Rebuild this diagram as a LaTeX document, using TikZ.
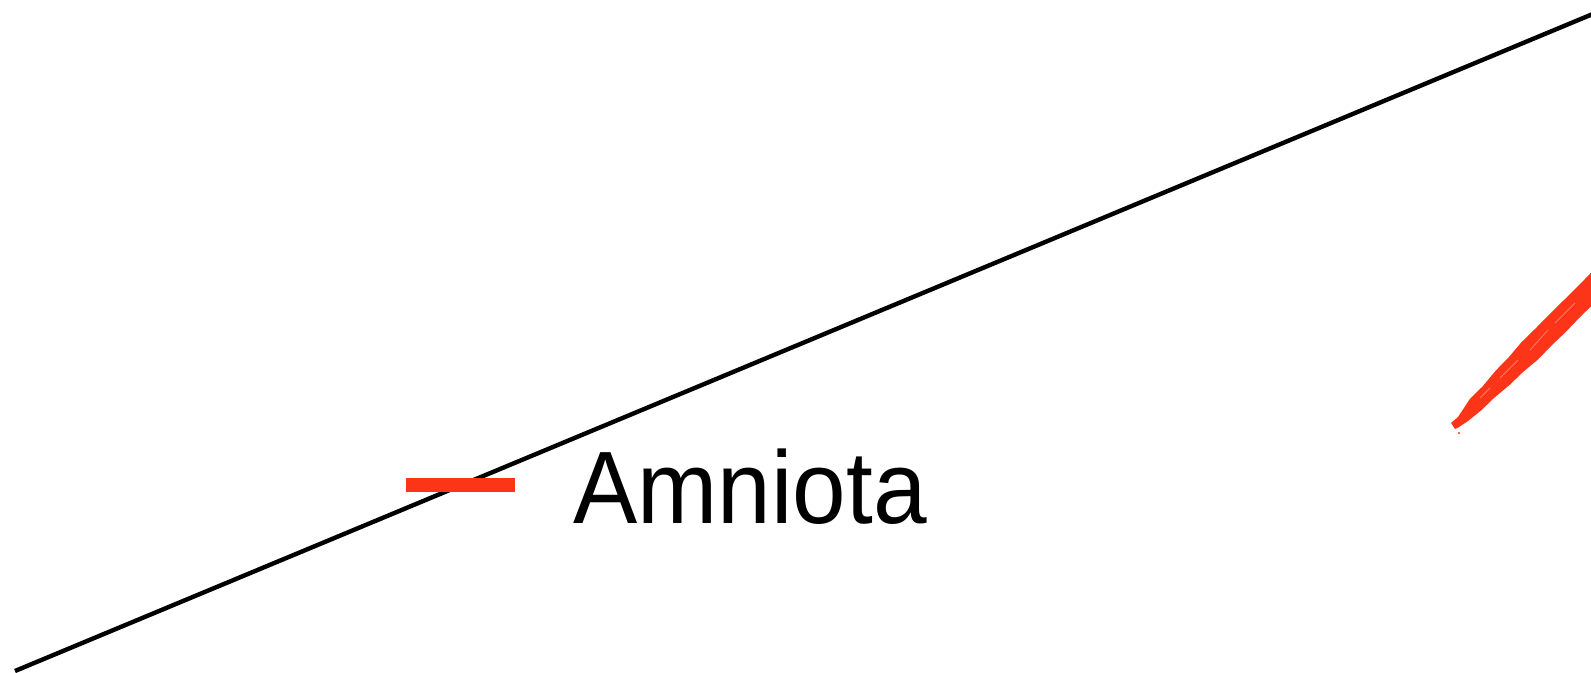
\documentclass[tikz,border=0pt]{standalone}
\usepackage{fontspec}
\setmainfont{Liberation Sans}
\usepackage{xcolor}
\usepackage{tikz}
\definecolor{cladered}{RGB}{252, 52, 24}

\begin{document}
\begin{tikzpicture}[x=0.5pt, y=-0.5pt]
		\useasboundingbox (0,0) rectangle (1591,673);
		\clip (0,0) rectangle (1591,673);

		\draw[black, line width=2.2pt] (15,671) -- (1600,11);

		\fill[cladered] (406,478) rectangle (515,492);
		\node[anchor=base west, inner sep=0pt, font=\fontsize{51.5}{60}\selectfont] (amniota) at (573,523.5) {\scalebox{0.935}[1]{Amniota}};

		\fill[cladered] (1451,423) -- (1458,417) -- (1469.8,399.1) -- (1483,386) -- (1495.6,370.7) -- (1509,357) -- (1521.4,342.3) -- (1535,329) -- (1548.6,315.3) -- (1566,298) -- (1582.6,281.5) -- (1602.6,260.5) -- (1619.4,277.5) -- (1599.4,298.5) -- (1582,315) -- (1565.4,332.3) -- (1552,345) -- (1538.2,359.3) -- (1523,372) -- (1509.6,384.9) -- (1494,398) -- (1481,410.5) -- (1468,421) -- (1457.8,427.8) -- (1455,429) -- cycle;
		\draw[white, opacity=0.35, line width=0.4pt] (1500,378) -- (1518,360) (1530,350) -- (1548,330) (1555,323) -- (1575,303) (1480,398) -- (1490,388);
		\fill[cladered] (1459,433) circle (1.2);
	\end{tikzpicture}
\end{document}
